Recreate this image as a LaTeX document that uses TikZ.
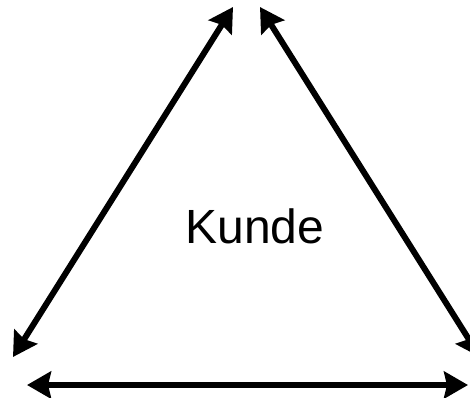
\documentclass[tikz,border=0pt]{standalone}
\usepackage{fontspec}
\setmainfont{Liberation Sans}
\usetikzlibrary{arrows.meta}
\begin{document}
\begin{tikzpicture}[x=1pt,y=-1pt,
  dblarrow/.style={line width=6pt,{Stealth[length=24pt,width=27pt,inset=3pt]}-{Stealth[length=24pt,width=27pt,inset=3pt]}},
  label/.style={font=\fontsize{48pt}{56pt}\selectfont,inner sep=0pt,anchor=base}]
\useasboundingbox (0,0) rectangle (470,397);
\clip (0,0) rectangle (470,397);
\coordinate (lt) at (233,7);
\coordinate (lb) at (13,357);
\coordinate (rt) at (260,7);
\coordinate (rb) at (480,357);
\coordinate (bl) at (27,385);
\coordinate (br) at (468,385);
\draw[dblarrow] (lt) -- (lb);
\draw[dblarrow] (rt) -- (rb);
\draw[dblarrow] (bl) -- (br);
\node[label] (kunde) at (255,243) {Kunde};
\end{tikzpicture}
\end{document}
